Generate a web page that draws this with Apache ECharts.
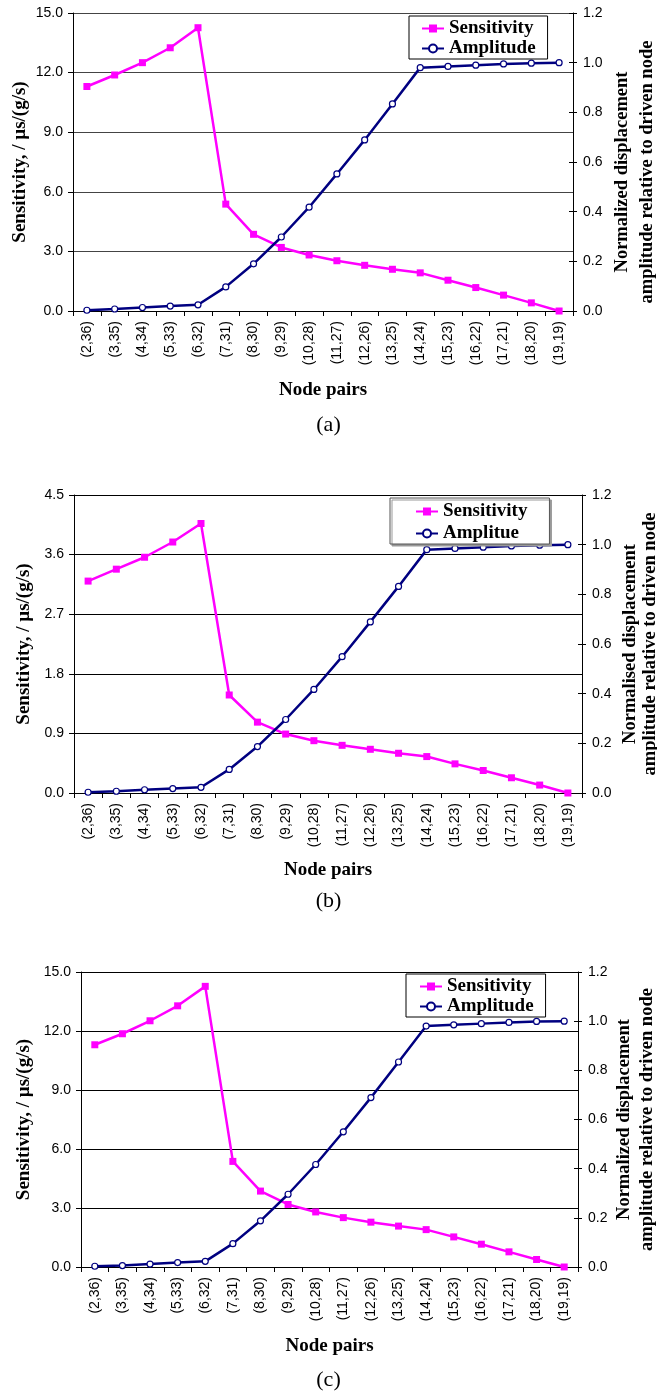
<!DOCTYPE html>
<html>
<head>
<meta charset="utf-8">
<script src="https://cdn.jsdelivr.net/npm/echarts@6/dist/echarts.min.js"></script>
<style>
  html, body { margin: 0; padding: 0; background: #fff; }
  #chart { width: 657px; height: 1395px; }
</style>
</head>
<body>
<div id="chart"></div>
<script>
// node pairs on the x axis (same in all three panels)
var nodePairs = ['(2,36)', '(3,35)', '(4,34)', '(5,33)', '(6,32)', '(7,31)', '(8,30)', '(9,29)', '(10,28)',
  '(11,27)', '(12,26)', '(13,25)', '(14,24)', '(15,23)', '(16,22)', '(17,21)', '(18,20)', '(19,19)'];

// panel (a)
var sensA = [11.3, 11.88, 12.5, 13.25, 14.26, 5.38, 3.86, 3.2, 2.82, 2.53, 2.3, 2.1, 1.92, 1.55, 1.18, 0.8, 0.41, 0.0];
var ampA = [0.003, 0.008, 0.014, 0.02, 0.025, 0.097, 0.19, 0.298, 0.418, 0.552, 0.689, 0.834, 0.98, 0.985, 0.99, 0.995, 0.998, 1.0];
// panel (b)
var sensB = [3.2, 3.38, 3.56, 3.79, 4.07, 1.48, 1.07, 0.89, 0.79, 0.72, 0.66, 0.6, 0.55, 0.44, 0.34, 0.23, 0.12, 0.0];
var ampB = [0.003, 0.007, 0.013, 0.018, 0.023, 0.095, 0.187, 0.296, 0.417, 0.549, 0.689, 0.832, 0.98, 0.985, 0.99, 0.995, 0.998, 1.0];
// panel (c)
var sensC = [11.3, 11.86, 12.52, 13.28, 14.27, 5.37, 3.86, 3.18, 2.8, 2.51, 2.28, 2.08, 1.9, 1.53, 1.16, 0.77, 0.38, 0.0];
var ampC = [0.003, 0.006, 0.012, 0.018, 0.023, 0.095, 0.188, 0.296, 0.417, 0.55, 0.689, 0.834, 0.98, 0.985, 0.99, 0.995, 0.999, 1.0];

// axis ranges: [min, max, interval]
var sensRangeA = [0, 15, 3];
var sensRangeB = [0, 4.5, 0.9];
var sensRangeC = [0, 15, 3];
var ampRange = [0, 1.2, 0.2];

// names / captions
var legendA = ['Sensitivity', 'Amplitude'];
var legendB = ['Sensitivity', 'Amplitue'];
var legendC = ['Sensitivity', 'Amplitude'];
var rightTitleA = 'Normalized displacement\namplitude relative to driven node';
var rightTitleB = 'Normalised displacement\namplitude relative to driven node';
var rightTitleC = 'Normalized displacement\namplitude relative to driven node';
var captions = ['(a)', '(b)', '(c)'];

var serif = "'Liberation Serif', 'Times New Roman', serif";
var sans = "'Liberation Sans', Arial, sans-serif";

var chart = echarts.init(document.getElementById('chart'), null, { renderer: 'canvas' });

var grids = [];
var xAxes = [];
var yAxes = [];
var series = [];
var legends = [];
var graphics = [];

function fmt1(v) { return v.toFixed(1); }

// one panel = one grid, category x axis, left + right value axes
function addPanel(p) {
  var gi = grids.length;
  grids.push({
    left: p.grid[0], top: p.grid[1], width: p.grid[2], height: p.grid[3],
    containLabel: false, outerBoundsMode: 'none'
  });

  xAxes.push({
    type: 'category', gridIndex: gi, data: nodePairs, boundaryGap: true,
    name: 'Node pairs', nameLocation: 'middle', nameGap: p.xNameGap, nameMoveOverlap: false,
    nameTextStyle: { fontFamily: serif, fontWeight: 'bold', fontSize: 19, color: '#000' },
    axisLine: { lineStyle: { color: '#000', width: 1 } },
    axisTick: { show: true, length: 5, lineStyle: { color: '#000' } },
    axisLabel: { rotate: 90, margin: 10, fontFamily: sans, fontSize: 14, color: '#000', interval: 0 }
  });

  var leftIdx = yAxes.length;
  yAxes.push({
    type: 'value', gridIndex: gi, position: 'left',
    min: p.sensRange[0], max: p.sensRange[1], interval: p.sensRange[2],
    name: 'Sensitivity, / \u00b5s/(g/s)', nameLocation: 'middle', nameGap: p.leftGap, nameRotate: 90,
    nameMoveOverlap: false,
    nameTextStyle: { fontFamily: serif, fontWeight: 'bold', fontSize: 19, color: '#000' },
    axisLine: { show: true, lineStyle: { color: '#000', width: 1 } },
    axisTick: { show: true, length: 5, lineStyle: { color: '#000' } },
    axisLabel: { margin: 10, fontFamily: sans, fontSize: 14, color: '#000', formatter: fmt1 },
    splitLine: { show: true, lineStyle: { color: p.gridColor, width: 1 } }
  });

  var rightIdx = yAxes.length;
  yAxes.push({
    type: 'value', gridIndex: gi, position: 'right',
    min: ampRange[0], max: ampRange[1], interval: ampRange[2],
    name: p.rightTitle, nameLocation: 'middle', nameGap: p.rightGap, nameRotate: 90,
    nameMoveOverlap: false,
    nameTextStyle: {
      fontFamily: serif, fontWeight: 'bold', fontSize: 18.5, color: '#000',
      lineHeight: p.rightLine, padding: [0, p.rightShift, 0, 0]
    },
    axisLine: { show: true, lineStyle: { color: '#000', width: 1 } },
    axisTick: { show: true, length: 4, lineStyle: { color: '#000' } },
    axisLabel: { margin: 10, fontFamily: sans, fontSize: 14, color: '#000', formatter: fmt1 },
    splitLine: { show: false }
  });
  // inner half of the crossing ticks on the right axis
  yAxes.push({
    type: 'value', gridIndex: gi, position: 'right',
    min: ampRange[0], max: ampRange[1], interval: ampRange[2],
    axisLine: { show: false },
    axisTick: { show: true, inside: true, length: 4, lineStyle: { color: '#000' } },
    axisLabel: { show: false },
    splitLine: { show: false }
  });

  series.push({
    name: p.legend[0], type: 'line', xAxisIndex: gi, yAxisIndex: leftIdx,
    data: p.sens, symbol: 'rect', symbolSize: 7, showAllSymbol: true,
    lineStyle: { color: '#ff00ff', width: 2.5 },
    itemStyle: { color: '#ff00ff' },
    z: 2
  });
  series.push({
    name: p.legend[1], type: 'line', xAxisIndex: gi, yAxisIndex: rightIdx,
    data: p.amp, symbol: 'circle', symbolSize: 6, showAllSymbol: true,
    lineStyle: { color: '#000080', width: 2.5 },
    itemStyle: { color: '#fff', borderColor: '#000080', borderWidth: 1.2 },
    z: 3
  });

  legends.push({
    data: p.legend, orient: 'vertical', left: p.legendPos[0], top: p.legendPos[1],
    padding: p.legendPad, itemGap: p.legendGap, itemWidth: 22, itemHeight: 10,
    backgroundColor: '#fff', borderColor: p.legendBorder, borderWidth: 1,
    shadowColor: p.legendShadow, shadowOffsetX: 2, shadowOffsetY: 2, shadowBlur: 0,
    selectedMode: false,
    textStyle: { fontFamily: serif, fontWeight: 'bold', fontSize: 19, color: '#000' }
  });

  graphics.push({
    type: 'text', left: 'center', top: p.captionY,
    style: { text: p.caption, fontFamily: serif, fontSize: 22, fill: '#000' }
  });
}

addPanel({
  grid: [73, 13, 500, 298], sensRange: sensRangeA, sens: sensA, amp: ampA,
  legend: legendA, rightTitle: rightTitleA, gridColor: '#444',
  xNameGap: 70, leftGap: 43, rightGap: 37, rightLine: 25, rightShift: 20,
  legendPos: [409, 16], legendPad: [3, 12, 1, 12], legendGap: 1, legendBorder: '#000', legendShadow: 'rgba(0,0,0,0)',
  caption: captions[0], captionY: 414
});
addPanel({
  grid: [74, 495, 508, 298], sensRange: sensRangeB, sens: sensB, amp: ampB,
  legend: legendB, rightTitle: rightTitleB, gridColor: '#000',
  xNameGap: 68, leftGap: 40, rightGap: 38, rightLine: 20, rightShift: 0,
  legendPos: [390, 498], legendPad: [4, 22, 1, 25], legendGap: 3, legendBorder: '#555', legendShadow: '#999',
  caption: captions[1], captionY: 890
});
addPanel({
  grid: [81, 972, 497, 295], sensRange: sensRangeC, sens: sensC, amp: ampC,
  legend: legendC, rightTitle: rightTitleC, gridColor: '#000',
  xNameGap: 70, leftGap: 47, rightGap: 35, rightLine: 23, rightShift: 0,
  legendPos: [406, 974], legendPad: [3, 12, 1, 13], legendGap: 1, legendBorder: '#000', legendShadow: 'rgba(0,0,0,0)',
  caption: captions[2], captionY: 1369
});

var option = {
  animation: false,
  backgroundColor: '#fff',
  grid: grids,
  xAxis: xAxes,
  yAxis: yAxes,
  legend: legends,
  series: series,
  graphic: graphics
};
chart.setOption(option);
</script>
</body>
</html>
